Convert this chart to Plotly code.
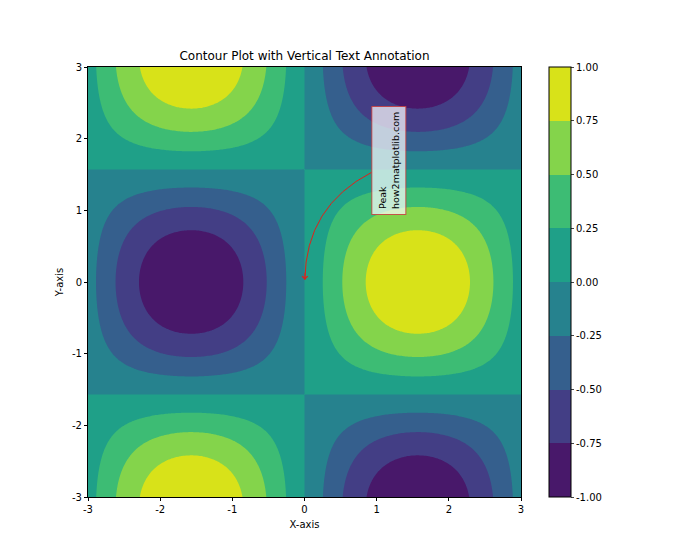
import numpy as np
import plotly.graph_objects as go

# grid definition for the function surface sin(x)*cos(y)
x_range = [-3, 3]
y_range = [-3, 3]
n_points = 300
levels = [-1.0, -0.75, -0.5, -0.25, 0.0, 0.25, 0.5, 0.75, 1.0]
band_colors = ["#48186a", "#433e85", "#355f8d", "#26828e",
               "#1fa088", "#3dbc74", "#84d44b", "#d8e219"]
tick_vals = [-3, -2, -1, 0, 1, 2, 3]
tick_text = ["-3", "-2", "-1", "0", "1", "2", "3"]
cbar_ticks = [-1.0, -0.75, -0.5, -0.25, 0.0, 0.25, 0.5, 0.75, 1.0]
cbar_text = ["-1.00", "-0.75", "-0.50", "-0.25", "0.00", "0.25", "0.50", "0.75", "1.00"]
annot_point = (0.0, 0.0)
annot_text_pos = (1.0, 1.0)
annot_text = "Peak<br>how2matplotlib.com"

x = np.linspace(x_range[0], x_range[1], n_points)
y = np.linspace(y_range[0], y_range[1], n_points)
X, Y = np.meshgrid(x, y)
Z = np.sin(X) * np.cos(Y)

# stepwise colorscale
cs = []
nb = len(band_colors)
for i, c in enumerate(band_colors):
    cs.append([i / nb, c])
    cs.append([(i + 1) / nb, c])

fig = go.Figure()
fig.add_trace(go.Contour(
    x=x, y=y, z=Z,
    zmin=levels[0], zmax=levels[-1],
    autocontour=False,
    contours=dict(start=levels[0], end=levels[-1], size=levels[1] - levels[0], coloring="fill", showlines=False),
    line=dict(width=0),
    colorscale=cs,
    colorbar=dict(
        x=1.0647, xanchor="left", xpad=0,
        y=0.5, yanchor="middle", len=1, lenmode="fraction", ypad=0,
        thickness=22, outlinecolor="black", outlinewidth=1,
        tickvals=cbar_ticks, ticktext=cbar_text, ticks="outside", ticklen=3,
        tickfont=dict(family="DejaVu Sans", size=10, color="black"),
    ),
))

# curved arrow (arc3, rad=0.3) from text box to the point
sx, sy = 0.93, 1.53
ex, ey = annot_point[0] + 0.005, annot_point[1] + 0.03
mx, my = (sx + ex) / 2, (sy + ey) / 2
dx, dy = ex - sx, ey - sy
rad = 0.3
cx, cy = mx + rad * dy, my - rad * dx
fig.add_shape(type="path", xref="x", yref="y",
              path=f"M {sx},{sy} Q {cx},{cy} {ex},{ey}",
              line=dict(color="#e0201a", width=1))
tx, ty = cx - ex, cy - ey
tn = (tx ** 2 + ty ** 2) ** 0.5
fig.add_annotation(x=ex, y=ey, ax=ex + 0.12 * tx / tn, ay=ey + 0.12 * ty / tn,
                   xref="x", yref="y", axref="x", ayref="y",
                   showarrow=True, arrowhead=4, arrowsize=1.1, arrowwidth=1,
                   arrowcolor="#e0201a", text="")

fig.add_annotation(x=annot_text_pos[0], y=annot_text_pos[1], xref="x", yref="y",
                   text=annot_text, textangle=-90, showarrow=False,
                   xanchor="left", yanchor="bottom", xshift=-5, yshift=-5,
                   align="left",
                   font=dict(family="DejaVu Sans", size=9.5, color="black"),
                   bgcolor="rgba(255,255,255,0.7)", bordercolor="rgba(200,60,60,0.85)",
                   borderwidth=1, borderpad=5)

axis_common = dict(
    showline=True, linecolor="black", linewidth=1, mirror=True,
    ticks="outside", ticklen=3, tickcolor="black",
    tickfont=dict(family="DejaVu Sans", size=10, color="black"),
    showgrid=False, zeroline=False,
)
fig.update_xaxes(range=x_range, tickvals=tick_vals, ticktext=tick_text,
                 title=dict(text="X-axis", font=dict(family="DejaVu Sans", size=10, color="black"), standoff=6),
                 **axis_common)
fig.update_yaxes(range=y_range, tickvals=tick_vals, ticktext=tick_text,
                 title=dict(text="Y-axis", font=dict(family="DejaVu Sans", size=10, color="black"), standoff=6),
                 **axis_common)

fig.update_layout(
    width=700, height=560,
    margin=dict(l=88, r=179, t=67, b=63),
    paper_bgcolor="white", plot_bgcolor="white",
    title=dict(text="Contour Plot with Vertical Text Annotation", x=(88 + 521) / 2 / 700, xanchor="center",
               y=1 - 56 / 560, yanchor="middle",
               font=dict(family="DejaVu Sans", size=12, color="black")),
    showlegend=False,
)

fig.write_html("out.html")
